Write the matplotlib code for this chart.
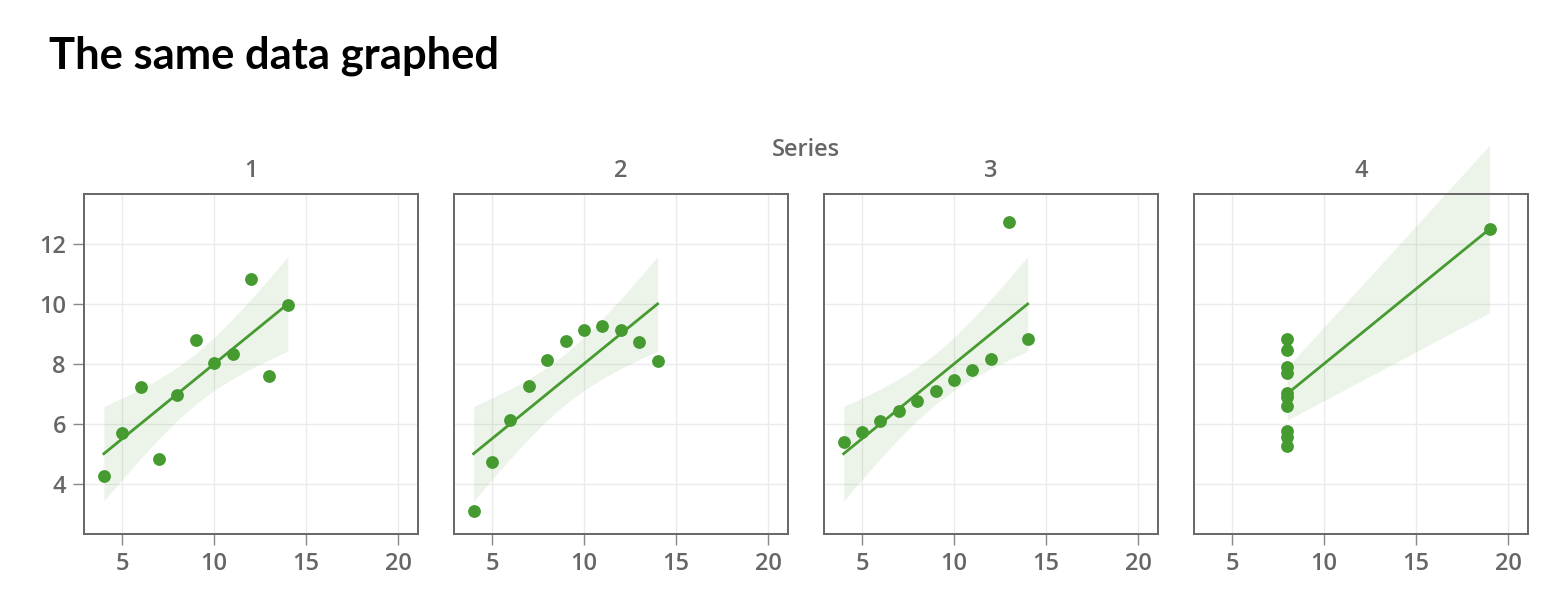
import numpy as np
import matplotlib
matplotlib.use("Agg")
import matplotlib.pyplot as plt

# Anscombe's quartet
series_names = ["1", "2", "3", "4"]
x_123 = [10, 8, 13, 9, 11, 14, 6, 4, 12, 7, 5]
x_4 = [8, 8, 8, 8, 8, 8, 8, 19, 8, 8, 8]
y_1 = [8.04, 6.95, 7.58, 8.81, 8.33, 9.96, 7.24, 4.26, 10.84, 4.82, 5.68]
y_2 = [9.14, 8.14, 8.74, 8.77, 9.26, 8.10, 6.13, 3.10, 9.13, 7.26, 4.74]
y_3 = [7.46, 6.77, 12.74, 7.11, 7.81, 8.84, 6.08, 5.39, 8.15, 6.42, 5.73]
y_4 = [6.58, 5.76, 7.71, 8.84, 8.47, 7.04, 5.25, 12.50, 5.56, 7.91, 6.89]
xs = [x_123, x_123, x_123, x_4]
ys = [y_1, y_2, y_3, y_4]
x_ticks = [5, 10, 15, 20]
y_ticks = [4, 6, 8, 10, 12]

GREEN = "#459a30"
FRAME = "#666666"
TXT = "#666666"
GRID = "#ebebeb"
T975 = 2.262  # t quantile, df = 9

W, H = 1566, 606
fig = plt.figure(figsize=(W / 100, H / 100), dpi=100)

lefts = [84, 453.7, 823.8, 1193.7]
pw, top, bot = 334.3, 193.7, 533.7

fig.text(49 / W, 1 - 68 / H, "The same data graphed", family="Lato",
         fontweight="bold", fontsize=31.3, color="black", va="baseline", ha="left")
fig.text(806 / W, 1 - 150 / H, "Series", family="Open Sans", fontweight="semibold",
         fontsize=17, color=TXT, ha="center", va="center")

for i, (name, x, y) in enumerate(zip(series_names, xs, ys)):
    ax = fig.add_axes([lefts[i] / W, (H - bot) / H, pw / W, (bot - top) / H])
    x = np.array(x, float)
    y = np.array(y, float)
    n = len(x)
    b, a = np.polyfit(x, y, 1)
    resid = y - (a + b * x)
    s = np.sqrt(np.sum(resid ** 2) / (n - 2))
    xm = x.mean()
    sxx = np.sum((x - xm) ** 2)
    xu = np.unique(x)
    yh = a + b * xu
    se = s * np.sqrt(1 / n + (xu - xm) ** 2 / sxx)
    ax.fill_between(xu, yh - T975 * se, yh + T975 * se, color=GREEN,
                    alpha=0.1, linewidth=0, clip_on=False, zorder=2)
    ax.plot(xu, yh, color=GREEN, lw=2.0, zorder=3, clip_on=False)
    ax.scatter(x, y, s=85, color=GREEN, linewidths=0, zorder=4, clip_on=False)

    ax.set_xlim(2.92, 21.09)
    ax.set_ylim(2.33, 13.68)
    ax.set_xticks(x_ticks)
    ax.set_yticks(y_ticks)
    ax.grid(True, color=GRID, lw=1.0, zorder=0)
    ax.set_axisbelow(True)
    for sp in ax.spines.values():
        sp.set_color(FRAME)
        sp.set_linewidth(1.4)
    ax.tick_params(axis="x", length=8, width=1.0, color="#888888",
                   labelcolor=TXT, labelsize=17, pad=5)
    if i == 0:
        ax.tick_params(axis="y", length=8, width=1.0, color="#888888",
                       labelcolor=TXT, labelsize=17, pad=5)
    else:
        ax.tick_params(axis="y", length=0, labelleft=False)
    for lab in ax.get_xticklabels() + ax.get_yticklabels():
        lab.set_family("Open Sans")
        lab.set_fontweight("semibold")
    ax.set_title(name, family="Open Sans", fontweight="semibold", fontsize=17,
                 color=TXT, pad=12)

fig.savefig("out.png", dpi=100, facecolor="white")
